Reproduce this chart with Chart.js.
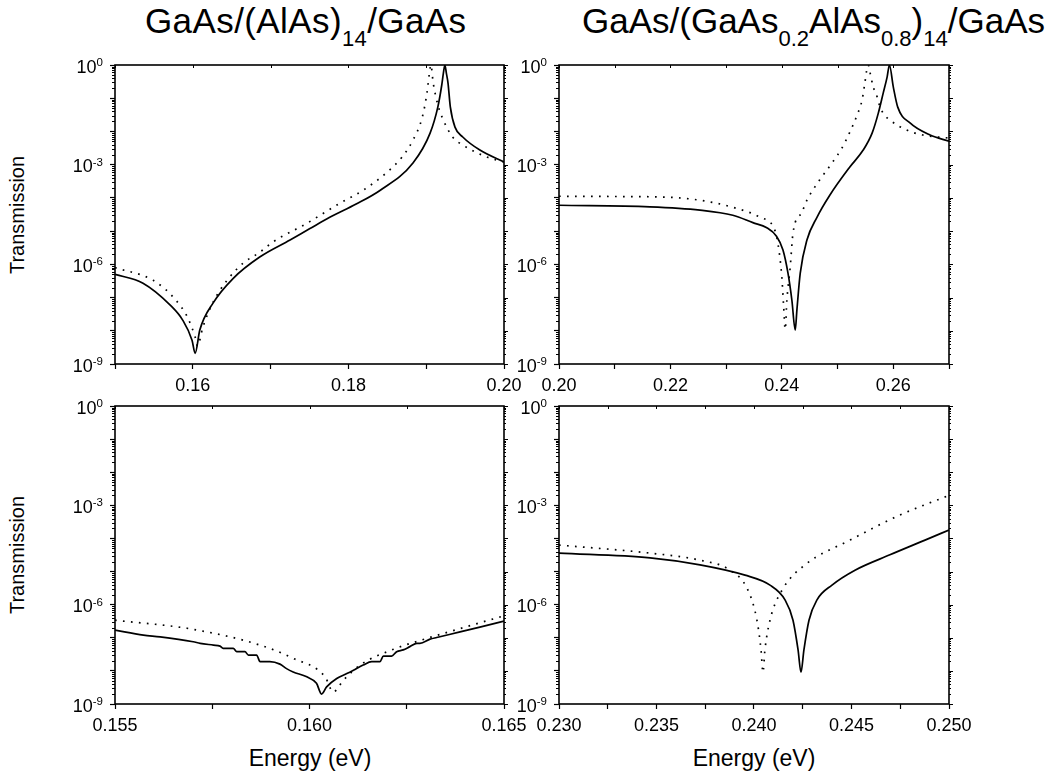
<!DOCTYPE html>
<html>
<head>
<meta charset="utf-8">
<script src="https://cdn.jsdelivr.net/npm/chart.js@4/dist/chart.umd.min.js"></script>
<style>
  html, body { margin:0; padding:0; background:#fff; }
  body { width:1047px; height:780px; position:relative; overflow:hidden; font-family:'Liberation Sans', Arial, sans-serif; color:#000; }
  canvas { position:absolute; }
  .title { position:absolute; font-size:35px; line-height:35px; white-space:nowrap; }
  .sub { font-size:22px; position:relative; top:13px; }
  .ylab { position:absolute; width:200px; text-align:center; font-size:20px; line-height:20px; transform:rotate(-90deg); white-space:nowrap; }
  .xlab { position:absolute; width:300px; text-align:center; font-size:23px; line-height:23px; white-space:nowrap; }
</style>
</head>
<body>
<div class="title" style="left:145px; top:3px; letter-spacing:0.4px;">GaAs/(AlAs)<span class="sub">14</span>/GaAs</div>
<div class="title" style="left:582px; top:3px;">GaAs/(GaAs<span class="sub">0.2</span>AlAs<span class="sub">0.8</span>)<span class="sub">14</span>/GaAs</div>
<div class="ylab" style="left:-83px; top:205px;">Transmission</div>
<div class="ylab" style="left:-83px; top:545px;">Transmission</div>
<div class="xlab" style="left:160px; top:747px;">Energy (eV)</div>
<div class="xlab" style="left:604px; top:747px;">Energy (eV)</div>

<canvas id="cTL"></canvas>
<canvas id="cTR"></canvas>
<canvas id="cBL"></canvas>
<canvas id="cBR"></canvas>

<script>
// ---------------- DATA ----------------
// Top-left: GaAs/(AlAs)14/GaAs, 0.15-0.20 eV
const tlSolidE = [0.150, 0.1536, 0.1571, 0.1587, 0.1599, 0.1603, 0.1609, 0.1626, 0.1652, 0.1686, 0.1725, 0.1750, 0.1776, 0.1810, 0.1841, 0.1883, 0.1905, 0.1915, 0.1920, 0.1922, 0.1924, 0.1926, 0.1928, 0.1931, 0.1937, 0.1947, 0.1969, 0.2000];
const tlSolidT = [5.0e-7, 2.7e-7, 5.9e-8, 2.1e-8, 5.2e-9, 2.1e-9, 1.05e-8, 6.8e-8, 3.8e-7, 1.66e-6, 5.4e-6, 1.17e-5, 2.6e-5, 6.5e-5, 1.7e-4, 1.12e-3, 8.9e-3, 5.5e-2, 0.25, 0.55, 1.0, 0.55, 0.29, 5.5e-2, 1.35e-2, 6.8e-3, 2.75e-3, 1.2e-3];
const tlDotE = [0.150, 0.1549, 0.1575, 0.1593, 0.1603, 0.1606, 0.1613, 0.1626, 0.1644, 0.1665, 0.1686, 0.1703, 0.1747, 0.1789, 0.1819, 0.1850, 0.1869, 0.1883, 0.1895, 0.1901, 0.1905, 0.1906, 0.1909, 0.1915, 0.1922, 0.1934, 0.1947, 0.1978, 0.2000];
const tlDotT = [8.0e-7, 3.3e-7, 1.02e-7, 2.6e-8, 6.5e-9, 3.5e-9, 1.3e-8, 7.2e-8, 3.3e-7, 1.1e-6, 2.3e-6, 4.7e-6, 1.74e-5, 6.9e-5, 1.7e-4, 6.0e-4, 1.7e-3, 5.5e-3, 2.7e-2, 0.145, 0.81, 1.0, 0.29, 0.063, 0.022, 6.8e-3, 3.9e-3, 1.7e-3, 1.2e-3];

// Top-right: GaAs/(GaAs0.2AlAs0.8)14/GaAs, 0.20-0.27 eV
const trSolidE = [0.200, 0.2163, 0.2253, 0.2312, 0.2348, 0.2373, 0.2390, 0.2402, 0.2411, 0.2418, 0.2424, 0.2427, 0.2433, 0.2445, 0.2463, 0.2486, 0.2522, 0.2546, 0.2562, 0.2573, 0.2582, 0.2589, 0.2593, 0.2600, 0.2608, 0.2630, 0.2666, 0.2700];
const trSolidT = [6.0e-5, 5.4e-5, 4.3e-5, 3.0e-5, 1.8e-5, 1.26e-5, 7.1e-6, 2.7e-6, 5.4e-7, 8.3e-8, 1.05e-8, 4.2e-8, 5.4e-7, 5.4e-6, 2.6e-5, 1.2e-4, 8.5e-4, 2.75e-3, 8.9e-3, 3.5e-2, 0.145, 0.44, 1.0, 0.22, 5.4e-2, 1.8e-2, 7.8e-3, 5.1e-3];
const trDotE = [0.200, 0.2100, 0.2194, 0.2253, 0.2312, 0.2361, 0.2388, 0.2395, 0.2400, 0.2403, 0.2406, 0.2409, 0.2415, 0.2420, 0.2436, 0.2445, 0.2468, 0.2490, 0.2508, 0.2522, 0.2535, 0.2544, 0.2549, 0.2553, 0.2555, 0.2558, 0.2564, 0.2571, 0.2575, 0.2582, 0.2594, 0.2624, 0.2653, 0.2700];
const trDotT = [1.12e-4, 1.1e-4, 1.05e-4, 8.5e-5, 5.2e-5, 2.6e-5, 1.0e-5, 2.5e-6, 4.0e-7, 6.3e-8, 1.1e-8, 8.3e-8, 8.3e-7, 8.7e-6, 3.7e-5, 8.5e-5, 3.5e-4, 1.12e-3, 3.2e-3, 9.5e-3, 3.1e-2, 8.9e-2, 0.29, 0.81, 1.0, 0.62, 0.22, 0.11, 0.063, 0.035, 0.022, 0.011, 7.8e-3, 6.3e-3];

// Bottom-left: GaAs/(AlAs)14/GaAs, 0.155-0.165 eV
const blSolidE = [0.15500, 0.15573, 0.15616, 0.15701, 0.15719, 0.15753, 0.15770, 0.15778, 0.15804, 0.15813, 0.15834, 0.15843, 0.15864, 0.15873, 0.15898, 0.15924, 0.15941, 0.15958, 0.15993, 0.16018, 0.16031, 0.16044, 0.16070, 0.16096, 0.16113, 0.16138, 0.16160, 0.16181, 0.16190, 0.16211, 0.16224, 0.16241, 0.16258, 0.16276, 0.16284, 0.16310, 0.16327, 0.16387, 0.16438, 0.16500];
const blSolidT = [1.7e-7, 1.2e-7, 1.07e-7, 7.6e-8, 6.8e-8, 6.0e-8, 5.6e-8, 4.8e-8, 4.8e-8, 3.8e-8, 3.8e-8, 3.0e-8, 3.0e-8, 1.9e-8, 1.9e-8, 1.6e-8, 1.17e-8, 9.3e-9, 6.6e-9, 4.2e-9, 2.0e-9, 3.3e-9, 5.9e-9, 8.3e-9, 1.05e-8, 1.5e-8, 1.9e-8, 1.9e-8, 2.8e-8, 2.8e-8, 3.8e-8, 4.3e-8, 5.4e-8, 6.8e-8, 6.8e-8, 9.1e-8, 1.02e-7, 1.5e-7, 2.1e-7, 3.2e-7];
const blDotE = [0.15500, 0.15701, 0.15873, 0.15958, 0.16040, 0.16061, 0.16087, 0.16130, 0.16216, 0.16301, 0.16387, 0.16500];
const blDotT = [3.4e-7, 1.8e-7, 6.0e-8, 2.4e-8, 6.6e-9, 2.3e-9, 5.2e-9, 1.5e-8, 4.5e-8, 9.5e-8, 1.9e-7, 4.6e-7];

// Bottom-right: GaAs/(GaAs0.2AlAs0.8)14/GaAs, 0.230-0.250 eV
const brSolidE = [0.2300, 0.23467, 0.23723, 0.23954, 0.24082, 0.24159, 0.24200, 0.24226, 0.24241, 0.24256, 0.24282, 0.24323, 0.24400, 0.24518, 0.24697, 0.24877, 0.2500];
const brSolidT = [3.6e-5, 2.6e-5, 1.6e-5, 7.8e-6, 3.9e-6, 1.4e-6, 3.4e-7, 4.3e-8, 9.1e-9, 4.3e-8, 3.4e-7, 1.4e-6, 3.9e-6, 1.1e-5, 3.2e-5, 8.9e-5, 1.8e-4];
const brDotE = [0.2300, 0.23467, 0.23723, 0.23877, 0.23969, 0.24015, 0.24036, 0.24046, 0.24056, 0.24082, 0.24144, 0.24262, 0.24492, 0.24749, 0.2500];
const brDotT = [6.3e-5, 3.6e-5, 2.2e-5, 1.1e-5, 2.75e-6, 3.4e-7, 4.3e-8, 9.1e-9, 4.3e-8, 3.4e-7, 2.75e-6, 1.6e-5, 8.9e-5, 5.1e-4, 2.0e-3];

// Tick values and labels
const tlXTicks = [0.15, 0.16, 0.17, 0.18, 0.19, 0.20];
const tlXLabels = ['', '0.16', '', '0.18', '', '0.20'];
const trXTicks = [0.20, 0.21, 0.22, 0.23, 0.24, 0.25, 0.26, 0.27];
const trXLabels = ['0.20', '', '0.22', '', '0.24', '', '0.26', ''];
const blXTicks = [0.155, 0.1575, 0.160, 0.1625, 0.165];
const blXLabels = ['0.155', '', '0.160', '', '0.165'];
const brXTicks = [0.230, 0.2325, 0.235, 0.2375, 0.240, 0.2425, 0.245, 0.2475, 0.250];
const brXLabels = ['0.230', '', '0.235', '', '0.240', '', '0.245', '', '0.250'];
const yMajorTicks = [1e-9, 1e-8, 1e-7, 1e-6, 1e-5, 1e-4, 1e-3, 1e-2, 1e-1, 1];
const yLabelValues = [1, 1e-3, 1e-6, 1e-9];
const yLabelExponents = ['0', '-3', '-6', '-9'];

// ---------------- DRAWING ----------------
const FONT = "'Liberation Sans', Arial, sans-serif";
const PAD_L = 70, PAD_T = 15, PAD_R = 30, PAD_B = 40;

const framePlugin = {
  id: 'frame',
  afterDraw(chart) {
    const ctx = chart.ctx;
    const { left, right, top, bottom } = chart.chartArea;
    const xs = chart.scales.x, ys = chart.scales.y;
    ctx.save();
    ctx.strokeStyle = '#000';
    ctx.lineWidth = 1;
    ctx.beginPath();
    for (let d = -9; d < 0; d++) {
      for (let k = 2; k <= 9; k++) {
        const y = Math.round(ys.getPixelForValue(k * Math.pow(10, d))) + 0.5;
        ctx.moveTo(left - 3, y); ctx.lineTo(left, y);
        ctx.moveTo(right, y); ctx.lineTo(right + 2, y);
      }
    }
    for (const v of yMajorTicks) {
      const y = Math.round(ys.getPixelForValue(v)) + 0.5;
      ctx.moveTo(right, y); ctx.lineTo(right + 4, y);
    }
    for (const t of xs.ticks) {
      const x = Math.round(xs.getPixelForValue(t.value)) + 0.5;
      ctx.moveTo(x, top); ctx.lineTo(x, top + 3);
    }
    ctx.stroke();
    ctx.lineWidth = 1.6;
    ctx.strokeRect(left, top, right - left, bottom - top);
    ctx.fillStyle = '#000';
    ctx.textBaseline = 'alphabetic';
    for (let i = 0; i < yLabelValues.length; i++) {
      const y = ys.getPixelForValue(yLabelValues[i]);
      ctx.font = '11.5px ' + FONT;
      const ew = ctx.measureText(yLabelExponents[i]).width;
      const xr = left - 12;
      ctx.textAlign = 'left';
      ctx.fillText(yLabelExponents[i], xr - ew, y + 1);
      ctx.font = '18px ' + FONT;
      ctx.textAlign = 'right';
      ctx.fillText('10', xr - ew, y + 7.5);
    }
    ctx.restore();
  }
};

function makePanel(id, box, xMin, xMax, xTicks, xLabels, sE, sT, dE, dT) {
  const cv = document.getElementById(id);
  cv.width = box.R - box.L + PAD_L + PAD_R;
  cv.height = box.B - box.T + PAD_T + PAD_B;
  cv.style.left = (box.L - PAD_L) + 'px';
  cv.style.top = (box.T - PAD_T) + 'px';
  return new Chart(cv.getContext('2d'), {
    type: 'line',
    data: {
      datasets: [
        { data: sE.map((e, i) => ({ x: e, y: sT[i] })), borderColor: '#000', borderWidth: 1.7,
          pointRadius: 0, cubicInterpolationMode: 'monotone', fill: false },
        { data: dE.map((e, i) => ({ x: e, y: dT[i] })), borderColor: '#000', borderWidth: 1.7,
          borderDash: [1.7, 6.3], borderCapStyle: 'butt', pointRadius: 0,
          cubicInterpolationMode: 'monotone', fill: false }
      ]
    },
    options: {
      responsive: false, animation: false, events: [],
      layout: { padding: { left: 0, top: PAD_T, right: PAD_R, bottom: 0 } },
      plugins: { legend: { display: false }, tooltip: { enabled: false } },
      scales: {
        x: {
          type: 'linear', min: xMin, max: xMax,
          afterBuildTicks: s => { s.ticks = xTicks.map(v => ({ value: v })); },
          afterFit: s => { s.height = PAD_B; },
          ticks: { autoSkip: false, maxRotation: 0, minRotation: 0, color: '#000',
                   font: { family: FONT, size: 18 }, padding: 6,
                   callback: (v, i) => xLabels[i] },
          grid: { drawOnChartArea: false, drawTicks: true, tickLength: 5, tickColor: '#000', tickWidth: 1.2 },
          border: { display: false }
        },
        y: {
          type: 'logarithmic', min: 1e-9, max: 1,
          afterBuildTicks: s => { s.ticks = yMajorTicks.map(v => ({ value: v })); },
          afterFit: s => { s.width = PAD_L; },
          ticks: { display: false },
          grid: { drawOnChartArea: false, drawTicks: true, tickLength: 5, tickColor: '#000', tickWidth: 1.2 },
          border: { display: false }
        }
      }
    },
    plugins: [framePlugin]
  });
}

makePanel('cTL', { L: 115, T: 65, R: 504, B: 364 }, 0.15, 0.20, tlXTicks, tlXLabels, tlSolidE, tlSolidT, tlDotE, tlDotT);
makePanel('cTR', { L: 559, T: 65, R: 949, B: 364 }, 0.20, 0.27, trXTicks, trXLabels, trSolidE, trSolidT, trDotE, trDotT);
makePanel('cBL', { L: 115, T: 406, R: 504, B: 704 }, 0.155, 0.165, blXTicks, blXLabels, blSolidE, blSolidT, blDotE, blDotT);
makePanel('cBR', { L: 559, T: 406, R: 949, B: 704 }, 0.230, 0.250, brXTicks, brXLabels, brSolidE, brSolidT, brDotE, brDotT);
</script>
</body>
</html>
